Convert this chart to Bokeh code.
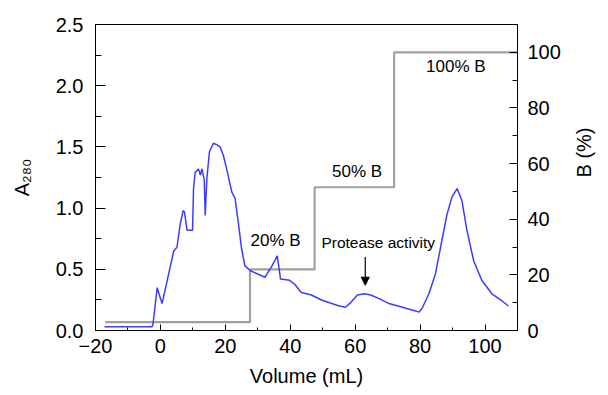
import math
from bokeh.plotting import figure
from bokeh.models import Range1d, LinearAxis, Label, Arrow, NormalHead, FixedTicker, PrintfTickFormatter
from bokeh.embed import file_html
from bokeh.resources import INLINE

# A280 trace
vol = [-17.2, -2.6, -2.3, -1.0, 0.5, 2.1, 4.1, 5.1, 6.1, 7.0, 7.4, 8.2, 9.9, 10.2, 10.7,
       11.7, 12.3, 12.8, 13.5, 13.8, 14.3, 15.1, 16.3, 17.2, 18.4, 19.4, 20.4, 22.0, 23.0,
       24.0, 25.0, 26.0, 27.6, 30.1, 32.2, 34.2, 36.0, 37.0, 39.8, 41.3, 43.4, 46.5, 50.0,
       55.1, 57.0, 58.7, 60.7, 62.8, 64.8, 67.4, 70.4, 74.5, 78.6, 79.6, 80.6, 82.7, 84.7,
       86.3, 88.3, 89.8, 91.4, 92.9, 94.4, 96.5, 99.0, 102.1, 105.1, 107.2]
a280 = [0.03, 0.03, 0.05, 0.35, 0.22, 0.41, 0.65, 0.68, 0.87, 0.98, 0.97, 0.82, 0.82, 1.16, 1.29,
        1.32, 1.27, 1.32, 1.23, 0.94, 1.24, 1.46, 1.53, 1.52, 1.50, 1.43, 1.32, 1.13, 1.08,
        0.88, 0.67, 0.53, 0.49, 0.46, 0.435, 0.52, 0.61, 0.42, 0.41, 0.38, 0.31, 0.29, 0.245,
        0.20, 0.19, 0.23, 0.29, 0.30, 0.29, 0.26, 0.22, 0.19, 0.16, 0.15, 0.18, 0.30, 0.46,
        0.68, 0.95, 1.09, 1.16, 1.06, 0.82, 0.57, 0.41, 0.30, 0.245, 0.20]

# Buffer B step gradient
step_vol = [-17.0, 27.6, 47.5, 72.0, 110.0]
step_b = [3.0, 22.0, 51.5, 100.0, 100.0]

# annotations
step_labels = ["20% B", "50% B", "100% B"]
step_label_x = [35.5, 60.6, 91.0]
step_label_y = [0.735, 1.30, 2.157]
protease_x, protease_y = 67.1, 0.72
arrow_x, arrow_y0, arrow_y1 = 63.1, 0.60, 0.37

x_ticks = [-20, 0, 20, 40, 60, 80, 100]
x_minor = [-10, 10, 30, 50, 70, 90, 110]
y_ticks = [0.0, 0.5, 1.0, 1.5, 2.0, 2.5]
y_minor = [0.25, 0.75, 1.25, 1.75, 2.25]
b_ticks = [0, 20, 40, 60, 80, 100]
b_minor = [10, 30, 50, 70, 90, 110]

FONT = "Liberation Sans"

p = figure(width=608, height=395, x_range=Range1d(-20, 110), y_range=Range1d(0, 2.5),
           output_backend="svg", toolbar_location=None,
           min_border_left=95, min_border_right=90, min_border_top=24, min_border_bottom=65)
p.extra_y_ranges = {"b": Range1d(0, 110)}
p.xgrid.visible = False
p.ygrid.visible = False
p.outline_line_color = "black"
p.outline_line_width = 1
p.background_fill_color = "white"
p.border_fill_color = "white"

def style(ax, major_in, minor_in, standoff):
    ax.major_tick_in = major_in
    ax.major_tick_out = 0
    ax.minor_tick_in = minor_in
    ax.minor_tick_out = 0
    ax.axis_line_color = "black"
    ax.major_tick_line_color = "black"
    ax.minor_tick_line_color = "black"
    ax.major_label_text_font = FONT
    ax.major_label_text_font_size = "20px"
    ax.major_label_text_color = "black"
    ax.major_label_standoff = standoff
    ax.axis_label_text_font = FONT
    ax.axis_label_text_font_size = "20px"
    ax.axis_label_text_font_style = "normal"
    ax.axis_label_text_color = "black"

xa = p.xaxis[0]
xa.ticker = FixedTicker(ticks=x_ticks, minor_ticks=x_minor)
style(xa, 6, 3, 8)
xa.axis_label = "Volume (mL)"
xa.axis_label_standoff = 9

ya = p.yaxis[0]
ya.ticker = FixedTicker(ticks=y_ticks, minor_ticks=y_minor)
ya.formatter = PrintfTickFormatter(format="%.1f")
style(ya, 10, 6, 12)
ya.axis_label = "A₂₈₀"
ya.axis_label_standoff = 20

ra = LinearAxis(y_range_name="b", ticker=FixedTicker(ticks=b_ticks, minor_ticks=b_minor))
style(ra, 8, 5, 10)
ra.axis_label = "B (%)"
ra.axis_label_standoff = 20
if "axis_label_orientation" in ra.properties():
    ra.axis_label_orientation = math.pi / 2
p.add_layout(ra, "right")

p.step(step_vol, step_b, mode="after", y_range_name="b", line_color="#a0a0a0", line_width=2.2)
p.line(vol, a280, line_color="#3c3cff", line_width=1.5)

for t, x, y in zip(step_labels, step_label_x, step_label_y):
    p.add_layout(Label(x=x, y=y, text=t, text_align="center", text_baseline="middle",
                       text_font=FONT, text_font_size="17px", text_color="black"))
p.add_layout(Label(x=protease_x, y=protease_y, text="Protease activity", text_align="center",
                   text_baseline="middle", text_font=FONT, text_font_size="15.5px",
                   text_color="black"))
p.add_layout(Arrow(x_start=arrow_x, y_start=arrow_y0, x_end=arrow_x, y_end=arrow_y1,
                   line_color="black", line_width=1.2,
                   end=NormalHead(size=8, fill_color="black", line_color="black")))

open("out.html", "w").write(file_html(p, INLINE))
